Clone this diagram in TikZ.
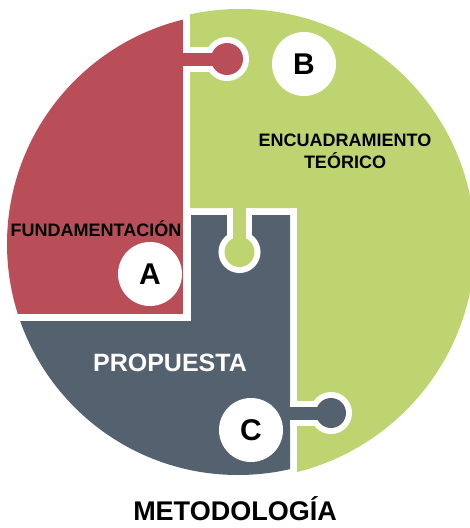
\documentclass[tikz,border=0pt]{standalone}
\usepackage{fontspec}
\setmainfont{Liberation Sans}
\usepackage{xcolor}
\usepackage{tikz}

\definecolor{fundred}{HTML}{B94E58}
\definecolor{encgreen}{HTML}{BED471}
\definecolor{propgray}{HTML}{54626F}

\begin{document}
\begin{tikzpicture}[x=1pt,y=-1pt,
    badge/.style={circle,fill=white,minimum size=64pt,inner sep=0pt,
      font=\bfseries\fontsize{30}{30}\selectfont},
    tabring/.style={white,line width=12pt},
    piecelabel/.style={anchor=base,inner sep=0pt,
      font=\bfseries\fontsize{18}{22}\selectfont}]
\useasboundingbox (0,0) rectangle (470,528);
% the three pieces
\begin{scope}
  \clip (240,244) circle (235);
  \fill[encgreen] (190,0) -- (190,208) -- (297,208) -- (297,528)
    -- (470,528) -- (470,0) -- cycle;
\end{scope}
\begin{scope}
  \clip (238,244) circle (231);
  \fill[fundred] (0,0) rectangle (183,314);
  \fill[propgray] (191,215) -- (290,215) -- (290,528) -- (0,528)
    -- (0,321) -- (191,321) -- cycle;
\end{scope}
% tabs
\begin{scope}
  \clip (183,0) rectangle (470,528);
  \draw[tabring] (175,52.5) rectangle (227,65.5);
  \draw[tabring] (227,59) circle (16);
\end{scope}
\fill[fundred] (175,52.5) rectangle (227,65.5);
\fill[fundred] (227,59) circle (16);
\begin{scope}
  \clip (0,208) rectangle (470,528);
  \draw[tabring] (233,200) rectangle (246,252);
  \draw[tabring] (239.5,252) circle (15);
\end{scope}
\fill[encgreen] (233,200) rectangle (246,252);
\fill[encgreen] (239.5,252) circle (15);
\begin{scope}
  \clip (290,0) rectangle (470,528);
  \draw[tabring] (280,406.5) rectangle (331,419.5);
  \draw[tabring] (331,413) circle (15);
\end{scope}
\fill[propgray] (280,406.5) rectangle (331,419.5);
\fill[propgray] (331,413) circle (15);
% letters
\node[badge] (A) at (150,274) {A};
\node[badge] (B) at (304,64) {B};
\node[badge] (C) at (251,430) {C};
% labels
\node[piecelabel] (fund) at (96,236.5) {FUNDAMENTACIÓN};
\node[piecelabel,align=center] (enc) at (345,168) {ENCUADRAMIENTO\\TEÓRICO};
\node[piecelabel,white,font=\bfseries\fontsize{25}{25}\selectfont] (prop) at (170,371) {PROPUESTA};
\node[piecelabel,font=\bfseries\fontsize{27}{27}\selectfont] (met) at (235,520) {METODOLOGÍA};
\end{tikzpicture}
\end{document}
